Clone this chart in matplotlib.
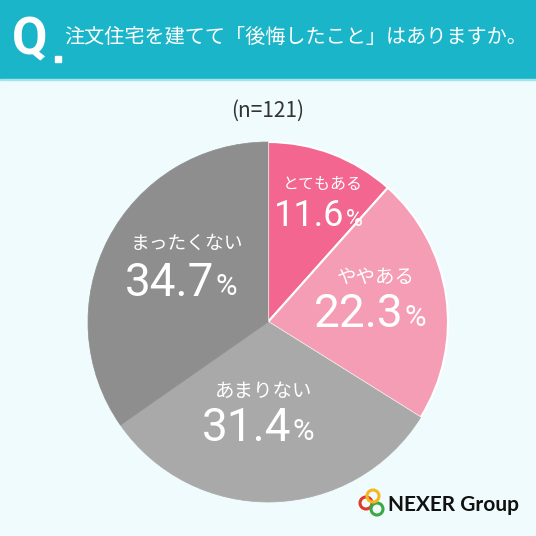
import matplotlib.pyplot as plt
from matplotlib.patches import Rectangle, Circle

plt.rcParams['font.family'] = ['Noto Sans CJK JP', 'DejaVu Sans']

# survey data
labels = ["とてもある", "ややある", "あまりない", "まったくない"]
values = [11.6, 22.3, 31.4, 34.7]
colors = ["#f2668f", "#f59db5", "#a9a9a9", "#8e8e8e"]
title = "注文住宅を建てて「後悔したこと」はありますか。"
sample = "(n=121)"

H = 536
fig = plt.figure(figsize=(5.36, 5.36), dpi=100)
fig.patch.set_facecolor("#effbfc")
ax = fig.add_axes([0, 0, 1, 1])

def Y(y):
    # image row -> axis y
    return H - y

# pie
wedges, _ = ax.pie(values, colors=colors, startangle=90, counterclock=False,
                   center=(268, Y(322)), radius=180, frame=True,
                   wedgeprops=dict(edgecolor="white", linewidth=1.5))
for w in wedges[2:]:
    w.set_edgecolor(w.get_facecolor())
    w.set_linewidth(0.5)
ax.set_xlim(0, 536)
ax.set_ylim(0, 536)
ax.axis("off")

# header band
ax.add_patch(Rectangle((0, Y(79)), 536, 79, color="#1ab5c9", zorder=1))
ax.add_patch(Rectangle((0, Y(80)), 536, 1.2, color="#a6e4ec", zorder=1))
ax.text(12, Y(40), "Q", color="white", fontsize=37, fontweight="bold",
        family=["Roboto", "DejaVu Sans"], va="center", ha="left", zorder=2)
ax.add_patch(Rectangle((55, Y(62)), 6, 6, color="white", zorder=2))
ax.text(64, Y(37), title, color="white", fontsize=14.5, va="center", ha="left", zorder=2)

ax.text(268, Y(111), sample, color="#333333", fontsize=15, va="center", ha="center")

# label positions (x center, label y, number y, label size, number size)
label_pos = [
    (321, 184, 216, 11.5, 26),
    (374, 277, 314, 14, 33),
    (262, 391, 428, 14, 33),
    (185, 243, 283, 13.5, 33),
]
for lab, val, (x, ly, ny, ls, ns) in zip(labels, values, label_pos):
    ax.text(x + 2, Y(ly), lab, color="white", fontsize=ls, ha="center", va="center")
    split = x + ns * 0.9
    ax.text(split, Y(ny), f"{val:.1f}", color="white", fontsize=ns,
            family=["Roboto", "DejaVu Sans"], ha="right", va="center")
    ax.text(split + 1, Y(ny + ns * 0.12), "%", color="white", fontsize=ns * 0.64,
            family=["Roboto", "DejaVu Sans"], ha="left", va="center")

# logo
for (cx, cy), c in zip([(366, 503), (377, 509), (373, 496)],
                       ["#e0392b", "#3aa845", "#f5b820"]):
    ax.add_patch(Circle((cx, Y(cy)), 6, fill=False, edgecolor=c, linewidth=2.2, zorder=5))
ax.text(388, Y(505), "NEXER Group", color="#111111", fontsize=15, fontweight="bold",
        family=["Lato", "DejaVu Sans"], ha="left", va="center")

fig.savefig("out.png", dpi=100, facecolor=fig.get_facecolor())
